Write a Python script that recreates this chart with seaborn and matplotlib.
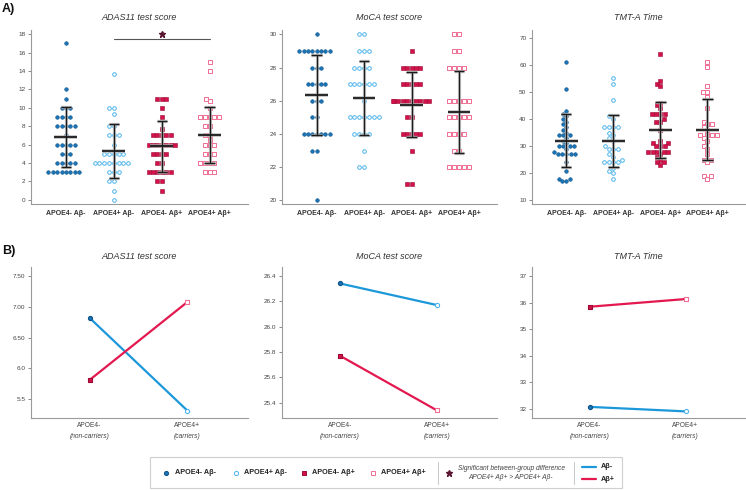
import numpy as np
import pandas as pd
import matplotlib
matplotlib.use("Agg")
import matplotlib.pyplot as plt
import seaborn as sns
from matplotlib.lines import Line2D
from matplotlib.patches import Rectangle

# ---------------- data ----------------
groups = ["APOE4- Aβ-", "APOE4+ Aβ-", "APOE4- Aβ+", "APOE4+ Aβ+"]

adas_g1 = [17, 12, 11, 10, 10, 10, 9, 9, 9, 9, 8, 8, 8, 8, 8, 7, 6, 6, 6, 6, 6,
           5, 5, 5, 4, 4, 4, 4, 4, 3, 3, 3, 3, 3, 3, 3, 3]
adas_g2 = [13.7, 10, 10, 9.3, 8, 8, 7, 7, 7, 6, 5, 5, 5, 5, 5, 4, 4, 4, 4, 4, 4, 4, 4,
           3, 3, 3, 2, 2, 1, 0]
adas_g3 = [11, 11, 11, 10, 9, 7.7, 7, 7, 7, 7, 7, 6, 6, 6, 6, 6, 6, 6, 5, 5, 5, 5,
           4, 4, 3, 3, 3, 3, 3, 3, 2, 2, 1]
adas_g4 = [15, 14, 11, 10.7, 10, 9, 9, 9, 9, 9, 8, 8, 7, 7, 6.5, 6, 6, 6, 5, 5, 5,
           4, 4, 4, 4, 3, 3, 3]

moca_g1 = [30] + [29] * 8 + [28] * 3 + [27] * 5 + [26] * 3 + [25] * 2 + [24] * 7 + [23] * 2 + [20]
moca_g2 = [30] * 2 + [29] * 3 + [28] * 4 + [27] * 6 + [26] + [25] * 7 + [24] * 4 + [23] + [22] * 2
moca_g3 = [29] + [28] * 5 + [27] * 5 + [26] * 10 + [25] * 2 + [24] * 5 + [23] + [21] * 2
moca_g4 = [30] * 2 + [29] * 2 + [28] * 4 + [26] * 5 + [25] * 5 + [24] * 4 + [23] * 2 + [22] * 5

tmt_g1 = [61, 51, 43, 42, 41, 40, 39, 38, 37, 36, 35, 34, 34, 34, 33, 32, 31, 30, 30, 30,
          30, 29, 28, 27, 27, 27, 27, 27, 24, 21, 18, 18, 17, 17]
tmt_g2 = [55, 53, 47, 41, 40, 37, 37, 37, 37, 35, 34, 33, 32, 30, 29, 29, 29, 27, 26, 25,
          24, 24, 24, 24, 22, 21, 20, 18]
tmt_g3 = [64, 54, 53, 52, 46, 45, 44, 42, 42, 42, 42, 40, 39, 39, 36, 32, 31, 31, 30, 30,
          30, 28, 28, 28, 28, 28, 27, 26, 25, 24, 24, 23]
tmt_g4 = [61, 59, 52, 50, 50, 48, 44, 39, 38, 38, 37, 36, 34, 34, 34, 34, 33, 32, 30, 29,
          27, 25, 25, 24, 19, 19, 18]

adas_mean = [6.82, 5.31, 5.81, 7.08]
adas_sd = [3.24, 2.90, 2.75, 3.06]
moca_mean = [26.34, 26.17, 25.77, 25.34]
moca_sd = [2.40, 2.24, 1.97, 2.48]
tmt_mean = [32.07, 31.90, 35.85, 36.14]
tmt_sd = [9.70, 9.50, 10.30, 11.25]

apoe_status = ["APOE4-", "APOE4+", "APOE4-", "APOE4+"]
abeta_status = ["Aβ-", "Aβ-", "Aβ+", "Aβ+"]
apoe_sub = ["(non-carriers)", "(carriers)"]

titles = ["ADAS11 test score", "MoCA test score", "TMT-A Time"]

# ---------------- style ----------------
sns.set_theme(style="ticks")
plt.rcParams["font.family"] = ["Liberation Sans", "DejaVu Sans"]

C_BLUE_F = "#1a74b8"
C_BLUE_O = "#4db3ec"
C_RED_F = "#d3124b"
C_RED_O = "#f06e93"
C_LINE_BLUE = "#1c98da"
C_LINE_RED = "#e3184f"
C_STAR = "#5a1530"

marker_styles = [
    dict(marker="o", color=C_BLUE_F, facecolor=C_BLUE_F, edgecolor="#11548a", linewidth=0.4),
    dict(marker="o", color=C_BLUE_O, facecolor="white", edgecolor=C_BLUE_O, linewidth=0.7),
    dict(marker="s", color=C_RED_F, facecolor=C_RED_F, edgecolor="#9c0a34", linewidth=0.4),
    dict(marker="s", color=C_RED_O, facecolor="white", edgecolor=C_RED_O, linewidth=0.7),
]

W, H = 746, 490
fig = plt.figure(figsize=(W / 100, H / 100), dpi=100)


def fx(px):
    return px / W


def fy(py):
    return 1 - py / H


def style_axis(ax):
    sns.despine(ax=ax)
    for sp in ("left", "bottom"):
        ax.spines[sp].set_color("#9a9a9a")
        ax.spines[sp].set_linewidth(0.8)
    ax.tick_params(axis="y", length=2.5, width=0.6, color="#777777",
                   labelsize=4.6, labelcolor="#444444", pad=1.5)
    ax.tick_params(axis="x", length=0, pad=4)
    ax.set_xlabel("")
    ax.set_ylabel("")


top_lefts = [31, 282, 532]
top_rights = [248, 497, 745]

top_data = [
    ([adas_g1, adas_g2, adas_g3, adas_g4], adas_mean, adas_sd, (-0.45, 18.45), np.arange(0, 19, 2)),
    ([moca_g1, moca_g2, moca_g3, moca_g4], moca_mean, moca_sd, (19.78, 30.26), np.arange(20, 31, 2)),
    ([tmt_g1, tmt_g2, tmt_g3, tmt_g4], tmt_mean, tmt_sd, (8.7, 72.8), np.arange(10, 71, 10)),
]

top_axes = []
for i, (series, means, sds, ylim, yt) in enumerate(top_data):
    ax = fig.add_axes([fx(top_lefts[i]), fy(204), fx(top_rights[i] - top_lefts[i]), (204 - 30) / H])
    top_axes.append(ax)
    for g, vals in enumerate(series):
        st = marker_styles[g]
        sns.swarmplot(x=[groups[g]] * len(vals), y=vals, order=groups, ax=ax,
                      size=2.6, marker=st["marker"], color=st["color"],
                      facecolor=st["facecolor"], edgecolor=st["edgecolor"],
                      linewidth=st["linewidth"], zorder=3, warn_thresh=1)
    xs = np.arange(len(groups))
    m = np.array(means)
    s = np.array(sds)
    for col, lw_add, z, al in (("#b5b5b5", 1.4, 4, 0.8), ("#1a1a1a", 0.0, 5, 1.0)):
        ax.vlines(xs, m - s, m + s, color=col, lw=0.9 + lw_add, zorder=z, alpha=al)
        ax.hlines(m, xs - 0.24, xs + 0.24, color=col, lw=1.3 + lw_add, zorder=z, alpha=al)
        ax.hlines(m + s, xs - 0.11, xs + 0.11, color=col, lw=1.0 + lw_add, zorder=z, alpha=al)
        ax.hlines(m - s, xs - 0.11, xs + 0.11, color=col, lw=1.0 + lw_add, zorder=z, alpha=al)
    ax.set_xlim(-0.73, 3.8)
    ax.set_ylim(*ylim)
    ax.set_yticks(yt)
    ax.set_yticklabels([str(v) for v in yt])
    style_axis(ax)
    ax.set_xticks(xs)
    ax.set_xticklabels(groups, fontsize=5, fontweight="bold", color="#333333")
    ax.set_title(titles[i], fontstyle="italic", fontsize=6.5, color="#333333", pad=7)

# significance annotation on ADAS panel
sig_pair = (1, 3)
sig_y = 17.5
top_axes[0].plot(sig_pair, [sig_y, sig_y], color="#555555", lw=0.8, zorder=6)
top_axes[0].plot([np.mean(sig_pair)], [sig_y + 0.55], marker="*", color=C_STAR,
                 markersize=4.5, zorder=7, linestyle="none")

# ---------------- bottom line plots ----------------
bottom_data = [
    (adas_mean, (5.19, 7.65), [5.5, 6.0, 6.5, 7.0, 7.5], ["5.5", "6.0", "6.50", "7.00", "7.50"]),
    (moca_mean, (25.28, 26.47), [25.4, 25.6, 25.8, 26.0, 26.2, 26.4],
     ["25.4", "25.6", "25.8", "26.0", "26.2", "26.4"]),
    (tmt_mean, (31.65, 37.35), [32, 33, 34, 35, 36, 37], ["32", "33", "34", "35", "36", "37"]),
]

for i, (means, ylim, yt, ytl) in enumerate(bottom_data):
    ax = fig.add_axes([fx(top_lefts[i]), fy(418), fx(top_rights[i] - top_lefts[i]), (418 - 267) / H])
    df = pd.DataFrame({"apoe": apoe_status, "abeta": abeta_status, "score": means})
    df["pos"] = df["apoe"].map({"APOE4-": 0, "APOE4+": 1})
    sns.lineplot(data=df, x="pos", y="score", hue="abeta",
                 palette={"Aβ-": C_LINE_BLUE, "Aβ+": C_LINE_RED},
                 lw=1.6, legend=False, ax=ax, zorder=2)
    for g in range(4):
        st = marker_styles[g]
        sub = df.iloc[[g]]
        sns.scatterplot(data=sub, x="pos", y="score", marker=st["marker"], s=9,
                        color=st["facecolor"], edgecolor=st["edgecolor"],
                        linewidth=0.8, ax=ax, zorder=3, legend=False)
    ax.set_xlim(-0.6, 1.62)
    ax.set_ylim(*ylim)
    ax.set_yticks(yt)
    ax.set_yticklabels(ytl)
    style_axis(ax)
    ax.set_xticks([0, 1])
    ax.set_xticklabels(["APOE4-", "APOE4+"], fontsize=4.8, color="#444444")
    ax.tick_params(axis="x", pad=3)
    for k, sub_lbl in enumerate(apoe_sub):
        ax.text(k, -0.125, sub_lbl, transform=ax.get_xaxis_transform(), ha="center", va="center",
                fontsize=4.8, fontstyle="italic", color="#444444")
    ax.set_title(titles[i], fontstyle="italic", fontsize=6.5, color="#333333", pad=5.5)

# panel letters
fig.text(fx(2), fy(9), "A)", fontsize=9, fontweight="bold", va="center", ha="left", color="#111111")
fig.text(fx(2), fy(251), "B)", fontsize=9, fontweight="bold", va="center", ha="left", color="#111111")

# ---------------- legend ----------------
fig.add_artist(Rectangle((fx(150), fy(488)), fx(622 - 150), (488 - 457) / H,
                         transform=fig.transFigure, fill=False, edgecolor="#cfcfcf", lw=0.8))
leg_y = fy(472.7)
leg_items = [(166, 175), (236, 244), (304, 312), (373, 381)]
for g, (mx, tx) in enumerate(leg_items):
    st = marker_styles[g]
    fig.add_artist(Line2D([fx(mx)], [leg_y], marker=st["marker"], markersize=3.0,
                          markerfacecolor=st["facecolor"], markeredgecolor=st["edgecolor"],
                          markeredgewidth=0.7, linestyle="none", transform=fig.transFigure))
    fig.text(fx(tx), leg_y, groups[g], fontsize=5.2, fontweight="bold", va="center",
             ha="left", color="#222222")
for sx in (438, 574):
    fig.add_artist(Line2D([fx(sx), fx(sx)], [fy(462), fy(484)], color="#c8c8c8", lw=0.7,
                          transform=fig.transFigure))
fig.add_artist(Line2D([fx(448.5)], [leg_y], marker="*", markersize=5, color=C_STAR,
                      linestyle="none", transform=fig.transFigure))
fig.text(fx(511), fy(468.5), "Significant between-group difference", fontsize=4.8,
         fontstyle="italic", ha="center", va="center", color="#444444")
fig.text(fx(511), fy(477), "APOE4+ Aβ+ > APOE4+ Aβ-", fontsize=4.8,
         fontstyle="italic", ha="center", va="center", color="#444444")
for yy, col, lbl in ((466.5, C_LINE_BLUE, "Aβ-"), (479.3, C_LINE_RED, "Aβ+")):
    fig.add_artist(Line2D([fx(582), fx(596)], [fy(yy), fy(yy)], color=col, lw=1.6,
                          transform=fig.transFigure))
    fig.text(fx(601), fy(yy), lbl, fontsize=5.2, fontweight="bold", va="center",
             ha="left", color="#222222")

fig.savefig("out.png", dpi=100)
